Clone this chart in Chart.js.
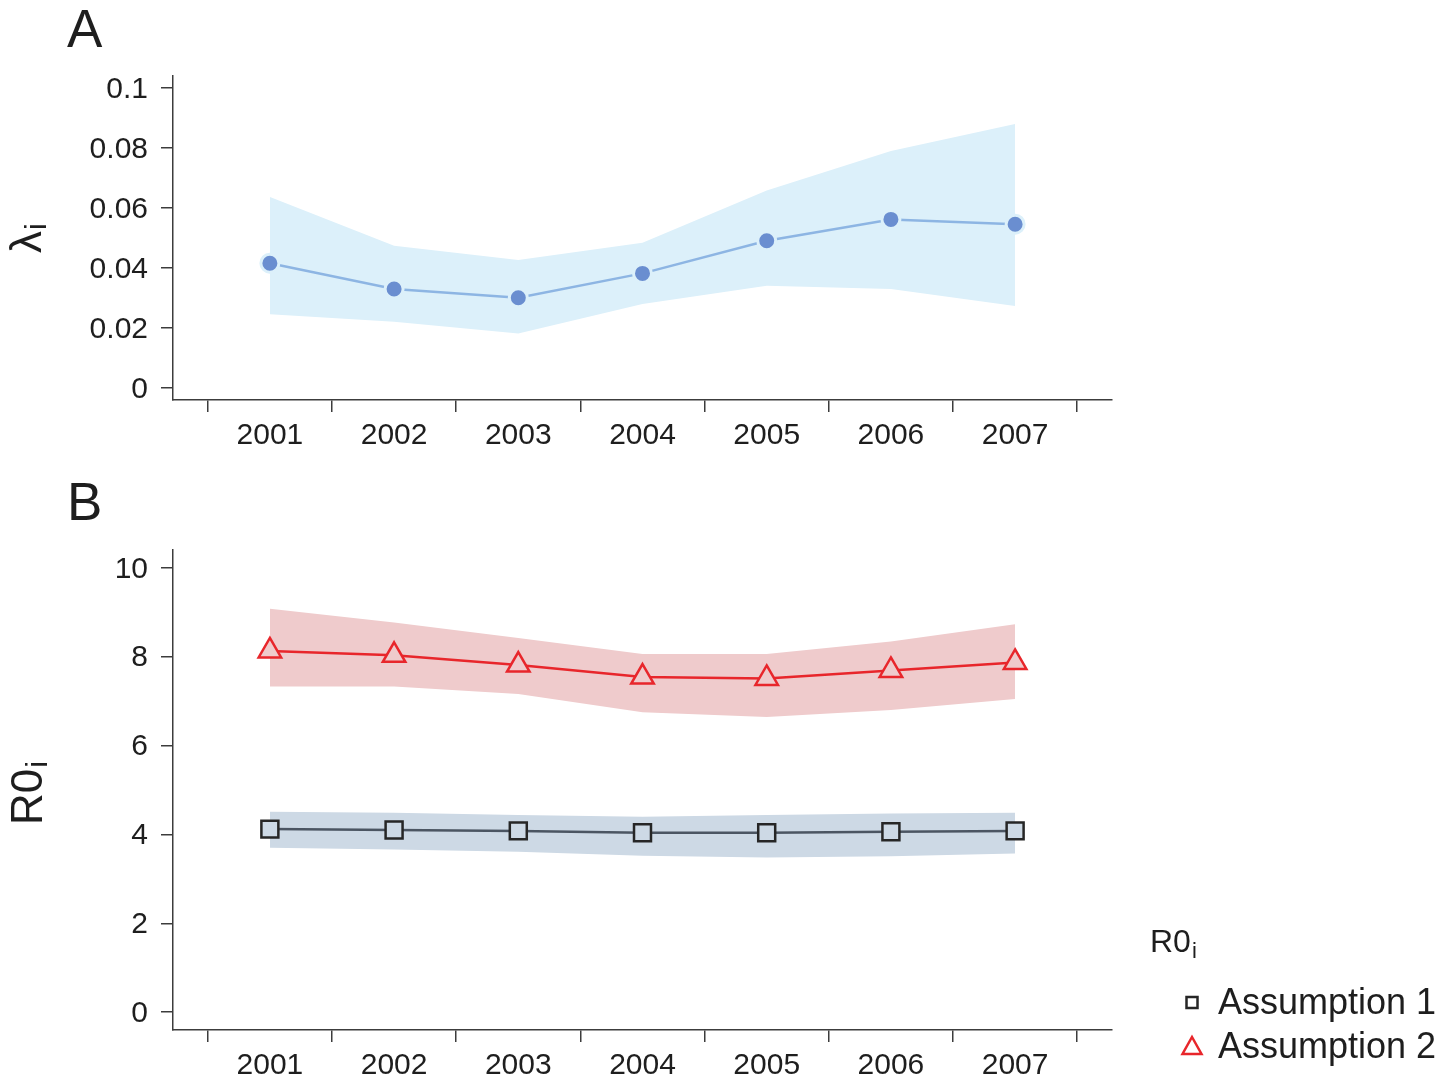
<!DOCTYPE html>
<html>
<head>
<meta charset="utf-8">
<script src="https://cdn.jsdelivr.net/npm/chart.js@4.4.1/dist/chart.umd.min.js"></script>
<style>
  html, body { margin: 0; padding: 0; background: #fff; }
  #wrap { position: relative; width: 1456px; height: 1076px; overflow: hidden; background: #fff; }
  canvas { position: absolute; left: 0; }
  #panelA { top: 0; }
  #panelB { top: 460px; }
</style>
</head>
<body>
<div id="wrap">
  <canvas id="panelA" width="1456" height="460"></canvas>
  <canvas id="panelB" width="1456" height="616"></canvas>
</div>
<script>
// Years of observation
const years = [2001, 2002, 2003, 2004, 2005, 2006, 2007];

// Panel A: force of infection (lambda) with its interval
const lambdaMean  = [0.0416, 0.0330, 0.0301, 0.0382, 0.0491, 0.0562, 0.0546];
const lambdaUpper = [0.0637, 0.0474, 0.0427, 0.0484, 0.0658, 0.0790, 0.0880];
const lambdaLower = [0.0246, 0.0221, 0.0182, 0.0280, 0.0341, 0.0330, 0.0273];

// Panel B: basic reproduction number under two assumptions
const r0Assump1      = [4.12, 4.10, 4.08, 4.04, 4.04, 4.06, 4.08];
const r0Assump1Upper = [4.51, 4.49, 4.44, 4.40, 4.44, 4.47, 4.49];
const r0Assump1Lower = [3.70, 3.66, 3.61, 3.52, 3.48, 3.51, 3.57];
const r0Assump2      = [8.13, 8.03, 7.81, 7.54, 7.51, 7.69, 7.87];
const r0Assump2Upper = [9.08, 8.77, 8.42, 8.06, 8.06, 8.34, 8.73];
const r0Assump2Lower = [7.33, 7.33, 7.16, 6.75, 6.64, 6.80, 7.05];

// Tick values and labels
const lambdaTicks      = [0, 0.02, 0.04, 0.06, 0.08, 0.1];
const lambdaTickLabels = ['0', '0.02', '0.04', '0.06', '0.08', '0.1'];
const r0Ticks          = [0, 2, 4, 6, 8, 10];
const r0TickLabels     = ['0', '2', '4', '6', '8', '10'];
const seriesNames      = ['Assumption 1', 'Assumption 2'];

const FONT = '"Liberation Sans", Arial, Helvetica, sans-serif';
Chart.defaults.font.family = FONT;
Chart.defaults.animation = false;

const AXIS = '#3c3c3c';
const TEXT = '#1e1e1e';

const pts = vals => years.map((x, i) => ({ x: x, y: vals[i] }));

function axes(yMin, yMax, tickVals, tickLabels, xHeight) {
  return {
    x: {
      type: 'linear',
      min: 2000.22,
      max: 2007.78,
      afterBuildTicks: s => { s.ticks = years.map(v => ({ value: v })); },
      afterFit: s => { s.height = xHeight; },
      ticks: {
        callback: v => String(v),
        font: { size: 30 },
        color: TEXT,
        padding: 6,
        autoSkip: false,
        maxRotation: 0
      },
      grid: { offset: true, drawOnChartArea: false, drawTicks: true, tickLength: 12, color: AXIS, lineWidth: 1.5 },
      border: { display: true, color: AXIS, width: 1.5 }
    },
    y: {
      type: 'linear',
      min: yMin,
      max: yMax,
      afterBuildTicks: s => { s.ticks = tickVals.map(v => ({ value: v })); },
      afterFit: s => { s.width = 173; },
      ticks: {
        callback: (v, i) => tickLabels[i],
        font: { size: 30 },
        color: TEXT,
        padding: 13,
        labelOffset: 1.5
      },
      grid: { drawOnChartArea: false, drawTicks: true, tickLength: 12, color: AXIS, lineWidth: 1.5 },
      border: { display: true, color: AXIS, width: 1.5 }
    }
  };
}

// Panel letter and rotated axis title with a subscript
function decorPlugin(letter, letterY, mainText, subText, titleBaseX, titleStartY) {
  return {
    id: 'decor' + letter,
    afterDraw(chart) {
      const ctx = chart.ctx;
      ctx.save();
      ctx.fillStyle = TEXT;
      ctx.textAlign = 'left';
      ctx.textBaseline = 'alphabetic';
      ctx.font = '53px ' + FONT;
      ctx.fillText(letter, 67, letterY);

      ctx.translate(titleBaseX, titleStartY);
      ctx.rotate(-Math.PI / 2);
      ctx.font = '44px ' + FONT;
      ctx.fillText(mainText, 0, 0);
      const w = ctx.measureText(mainText).width;
      ctx.font = '30px ' + FONT;
      ctx.fillText(subText, w + 1, 5);
      ctx.restore();
    }
  };
}

// Legend for panel B, built from the line datasets
const keyPlugin = {
  id: 'keyBox',
  afterDraw(chart) {
    const ctx = chart.ctx;
    ctx.save();
    ctx.fillStyle = TEXT;
    ctx.textAlign = 'left';
    ctx.textBaseline = 'alphabetic';
    ctx.font = '32px ' + FONT;
    ctx.fillText('R0', 1150, 492);
    const w = ctx.measureText('R0').width;
    ctx.font = '22px ' + FONT;
    ctx.fillText('i', 1150 + w + 1, 498);

    const entries = chart.data.datasets.filter(d => d.inKey);
    entries.forEach((d, k) => {
      const cy = 543 + k * 44;
      const cx = 1192;
      ctx.lineWidth = 2.5;
      ctx.strokeStyle = d.pointBorderColor;
      ctx.fillStyle = '#fff';
      ctx.beginPath();
      if (d.pointStyle === 'rect') {
        ctx.rect(cx - 5.5, cy - 6, 11, 11);
      } else {
        ctx.moveTo(cx, cy - 10);
        ctx.lineTo(cx + 9.5, cy + 7);
        ctx.lineTo(cx - 9.5, cy + 7);
        ctx.closePath();
      }
      ctx.fill();
      ctx.stroke();
      ctx.fillStyle = TEXT;
      ctx.font = '36px ' + FONT;
      ctx.textBaseline = 'middle';
      ctx.fillText(d.label, 1218, cy + 1);
    });
    ctx.restore();
  }
};

// Panel A
new Chart(document.getElementById('panelA'), {
  type: 'line',
  data: {
    datasets: [
      {
        label: 'lambda',
        data: pts(lambdaMean),
        borderColor: '#8db5e3',
        borderWidth: 2.5,
        pointRadius: 9,
        pointBackgroundColor: '#6a8ed0',
        pointBorderColor: '#dcf0fa',
        pointBorderWidth: 3,
        fill: false
      },
      {
        label: 'upper',
        data: pts(lambdaUpper),
        borderWidth: 0,
        borderColor: 'rgba(0,0,0,0)',
        pointRadius: 0,
        backgroundColor: '#dcf0fa',
        fill: '+1'
      },
      {
        label: 'lower',
        data: pts(lambdaLower),
        borderWidth: 0,
        borderColor: 'rgba(0,0,0,0)',
        pointRadius: 0,
        fill: false
      }
    ]
  },
  options: {
    responsive: false,
    layout: { padding: { left: 0, top: 76, right: 344, bottom: 0 } },
    scales: axes(-0.004, 0.104, lambdaTicks, lambdaTickLabels, 60),
    plugins: {
      legend: { display: false },
      tooltip: { enabled: false },
      filler: { drawTime: 'beforeDatasetsDraw' }
    }
  },
  plugins: [decorPlugin('A', 47, 'λ', 'i', 41, 253)]
});

// Panel B
new Chart(document.getElementById('panelB'), {
  type: 'line',
  data: {
    datasets: [
      {
        label: seriesNames[0],
        inKey: true,
        data: pts(r0Assump1),
        borderColor: '#4b5562',
        borderWidth: 2.5,
        pointStyle: 'rect',
        pointRadius: 12,
        pointBackgroundColor: '#cdd9e5',
        pointBorderColor: '#262626',
        pointBorderWidth: 2.5,
        fill: false
      },
      {
        label: seriesNames[1],
        inKey: true,
        data: pts(r0Assump2),
        borderColor: '#e8262b',
        borderWidth: 2.5,
        pointStyle: 'triangle',
        pointRadius: 13,
        pointBackgroundColor: '#efcbcc',
        pointBorderColor: '#e8262b',
        pointBorderWidth: 2.5,
        fill: false
      },
      {
        label: 'a1 upper',
        data: pts(r0Assump1Upper),
        borderWidth: 0,
        borderColor: 'rgba(0,0,0,0)',
        pointRadius: 0,
        backgroundColor: '#cdd9e5',
        fill: '+1'
      },
      {
        label: 'a1 lower',
        data: pts(r0Assump1Lower),
        borderWidth: 0,
        borderColor: 'rgba(0,0,0,0)',
        pointRadius: 0,
        fill: false
      },
      {
        label: 'a2 upper',
        data: pts(r0Assump2Upper),
        borderWidth: 0,
        borderColor: 'rgba(0,0,0,0)',
        pointRadius: 0,
        backgroundColor: '#efcbcc',
        fill: '+1'
      },
      {
        label: 'a2 lower',
        data: pts(r0Assump2Lower),
        borderWidth: 0,
        borderColor: 'rgba(0,0,0,0)',
        pointRadius: 0,
        fill: false
      }
    ]
  },
  options: {
    responsive: false,
    layout: { padding: { left: 0, top: 90, right: 344, bottom: 0 } },
    scales: axes(-0.4, 10.4, r0Ticks, r0TickLabels, 46),
    plugins: {
      legend: { display: false },
      tooltip: { enabled: false },
      filler: { drawTime: 'beforeDatasetsDraw' }
    }
  },
  plugins: [decorPlugin('B', 60, 'R0', 'i', 42, 365), keyPlugin]
});
</script>
</body>
</html>
